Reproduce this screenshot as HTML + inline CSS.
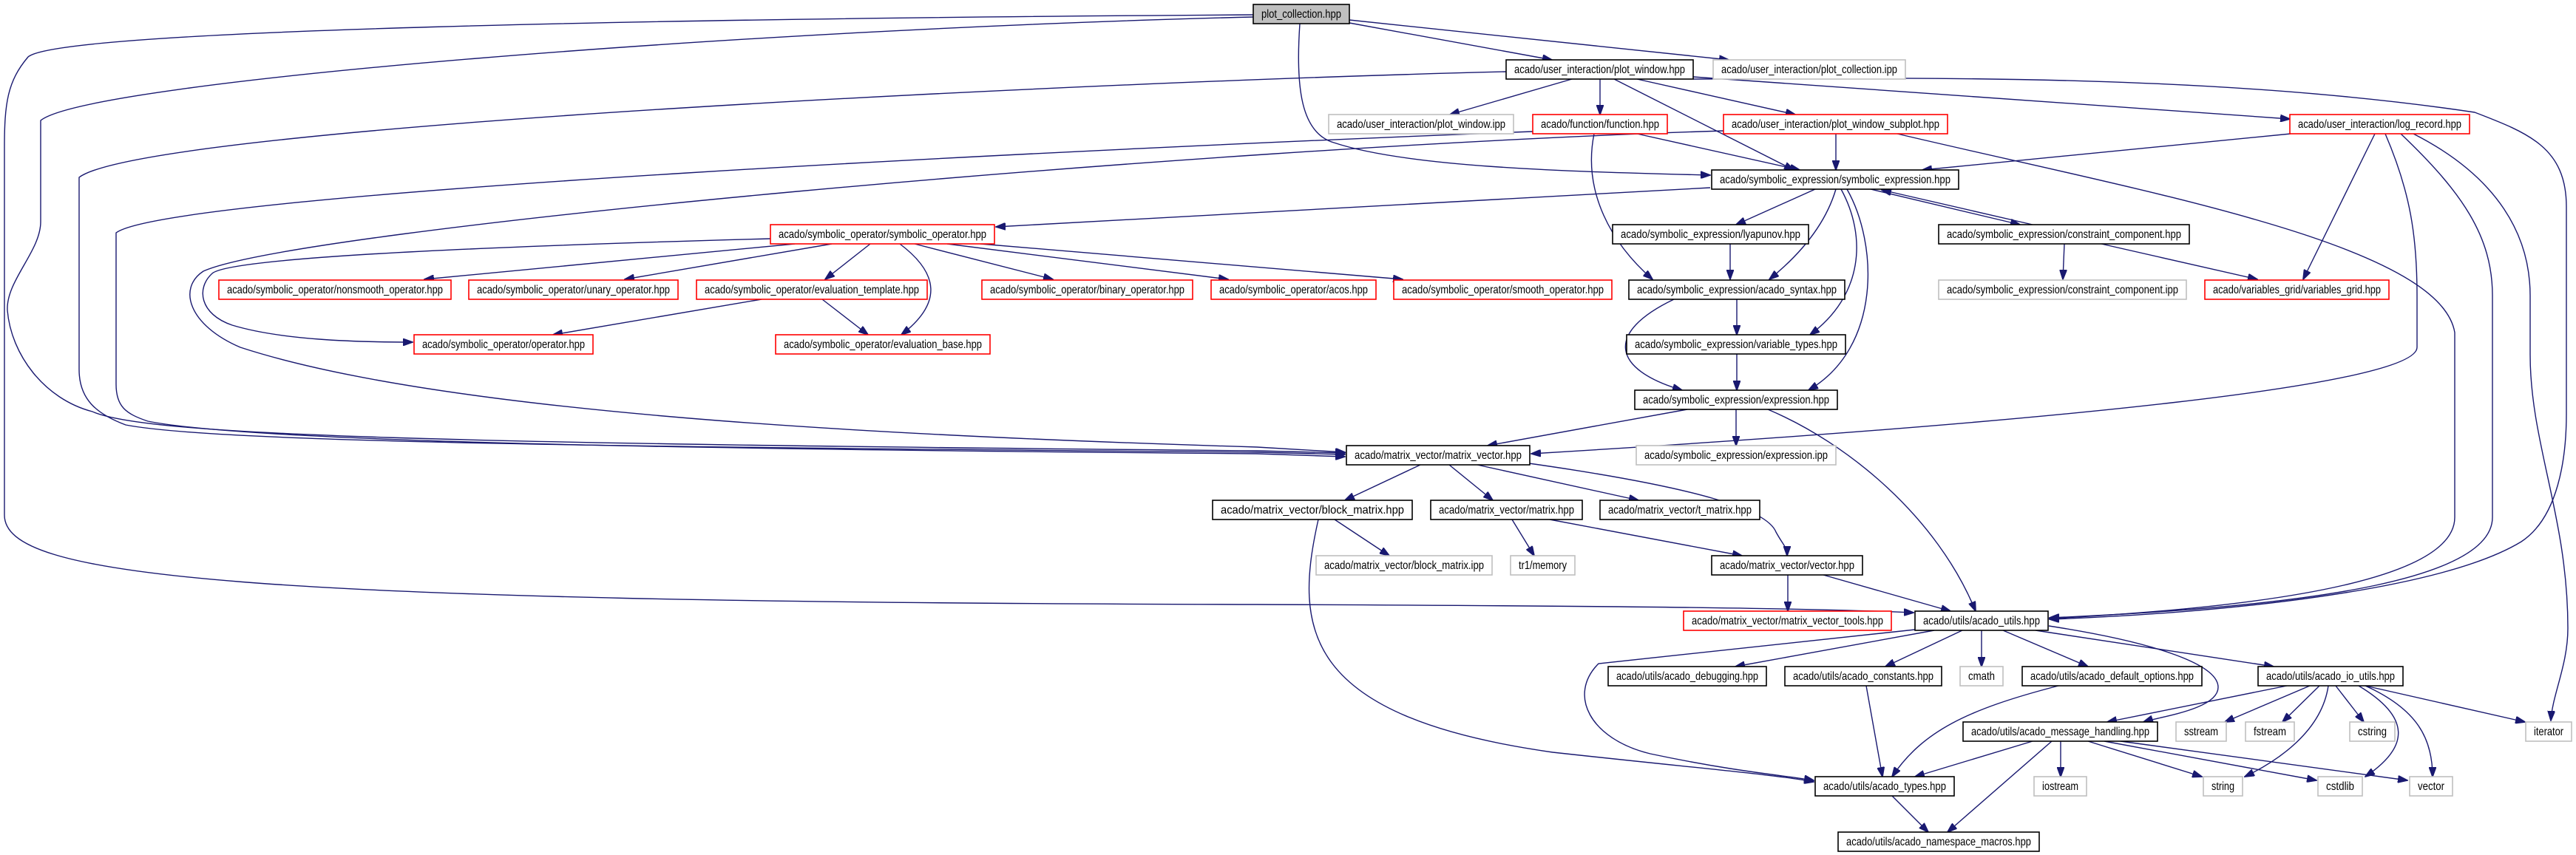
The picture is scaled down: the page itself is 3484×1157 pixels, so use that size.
<!DOCTYPE html>
<html><head><meta charset="utf-8"><style>
html,body{margin:0;padding:0;background:#fff;width:3484px;height:1157px;overflow:hidden}
svg{display:block}
text{font-family:"Liberation Sans",sans-serif;font-size:16px;fill:#000;text-anchor:middle}
.b{fill:#fff;stroke:#000;stroke-width:1.6}
.r{fill:#fff;stroke:#ff0000;stroke-width:1.6}
.g{fill:#fff;stroke:#bfbfbf;stroke-width:1.6}
.e{fill:none;stroke:#191970;stroke-width:1.4}
</style></head><body>
<svg width="3484" height="1157" viewBox="0 0 3484 1157" xmlns="http://www.w3.org/2000/svg">
<defs><marker id="a" markerWidth="14" markerHeight="10" refX="13" refY="5" orient="auto" markerUnits="userSpaceOnUse"><path d="M0,0L14,5L0,10z" fill="#191970" stroke="#191970"/></marker></defs>
<g class="e" marker-end="url(#a)">
<path d="M1825,31L2099,81"/>
<path d="M1825,27L2338,81"/>
<path d="M1758,32C1752,120 1760,180 1804,193C1900,225 2100,232 2313,237"/>
<path d="M1695,20C900,25 80,40 38,77C10,110 6,140 6,200L6,697C6,780 300,815 1700,818C2200,820 2450,823 2588,829"/>
<path d="M1695,23C1000,40 120,110 55,163C55,200 55,280 55,300C55,340 8,380 10,420C15,480 60,540 125,557C200,590 600,600 1700,610L1819,613"/>
<path d="M2037,97C1500,110 200,170 107,240L107,500C107,540 130,560 170,575C300,600 900,605 1700,612L1819,615"/>
<path d="M2073,178C1500,200 230,260 157,315L157,520C157,550 170,560 200,570C350,600 1000,608 1700,614L1819,618"/>
<path d="M2331,177C1600,200 400,310 275,367C240,390 255,440 325,470C600,560 1200,590 1700,605L1819,612"/>
<path d="M1042,323C600,335 310,350 287,370C265,390 270,425 314,440C380,460 480,463 558,463"/>
<path d="M2126,107L1961,155"/>
<path d="M2164,107L2164,155"/>
<path d="M2183,107L2426,230"/>
<path d="M2214,107L2428,155"/>
<path d="M2290,104L3097,161"/>
<path d="M2290,107C2600,105 3000,100 3347,152C3420,180 3471,200 3471,280L3471,560C3471,620 3460,700 3410,733C3300,800 3000,830 2772,838"/>
<path d="M2214,181L2434,230"/>
<path d="M2156,181C2140,260 2180,330 2235,378"/>
<path d="M2483,181L2483,230"/>
<path d="M2566,181C2900,260 3300,330 3320,450L3320,700C3320,780 3100,820 2772,837"/>
<path d="M3098,181L2600,230"/>
<path d="M3212,181L3115,378"/>
<path d="M3226,181C3260,260 3269,320 3269,400L3269,470C3269,520 2800,570 2071,614"/>
<path d="M3247,181C3330,260 3371,320 3371,400L3371,700C3371,780 3150,820 2772,836"/>
<path d="M3264,181C3380,240 3422,320 3422,400L3422,480C3422,600 3473,700 3473,850C3473,900 3452,940 3450,975"/>
<path d="M2313,254L1347,307"/>
<path d="M2455,256L2348,304"/>
<path d="M2483,256C2470,300 2440,340 2393,378"/>
<path d="M2530,256L2732,304"/>
<path d="M2749,304L2545,257"/>
<path d="M2490,256C2525,320 2520,400 2448,453"/>
<path d="M2498,256C2540,330 2545,470 2446,528"/>
<path d="M2792,330L2790,378"/>
<path d="M2842,330L3053,378"/>
<path d="M2340,330L2340,378"/>
<path d="M1075,330L574,378"/>
<path d="M1125,330L845,378"/>
<path d="M1177,330L1116,378"/>
<path d="M1237,330L1424,378"/>
<path d="M1281,330L1661,378"/>
<path d="M1326,330L1897,378"/>
<path d="M1217,330C1270,370 1275,410 1219,453"/>
<path d="M1030,405L748,453"/>
<path d="M1112,405L1174,453"/>
<path d="M2349,405L2349,453"/>
<path d="M2264,405C2170,450 2180,500 2275,528"/>
<path d="M2349,479L2349,528"/>
<path d="M2282,554L2012,603"/>
<path d="M2348,554L2348,603"/>
<path d="M2391,554C2500,600 2620,700 2672,827"/>
<path d="M1921,629L1819,677"/>
<path d="M1960,629L2019,677"/>
<path d="M1998,629L2216,677"/>
<path d="M2068,627C2300,660 2390,690 2402,720C2413,740 2417,740 2417,752"/>
<path d="M1805,703L1879,752"/>
<path d="M1783,703C1750,850 1760,970 2100,1018C2300,1040 2400,1048 2453,1058"/>
<path d="M2045,703L2075,752"/>
<path d="M2096,703L2356,752"/>
<path d="M2418,778L2418,827"/>
<path d="M2466,778L2638,827"/>
<path d="M2616,853L2347,902"/>
<path d="M2654,853L2550,902"/>
<path d="M2680,853L2680,902"/>
<path d="M2709,853L2824,902"/>
<path d="M2753,853L3075,902"/>
<path d="M2590,852L2162,898C2120,940 2150,1000 2232,1020C2350,1045 2420,1050 2453,1056"/>
<path d="M2771,847C2920,870 3000,900 3000,930C3000,960 2920,970 2899,977"/>
<path d="M2524,928L2546,1051"/>
<path d="M2784,928C2660,960 2600,990 2559,1051"/>
<path d="M3093,928L2850,977"/>
<path d="M3124,928L3009,977"/>
<path d="M3137,928L3087,977"/>
<path d="M3149,928C3140,990 3080,1030 3036,1051"/>
<path d="M3159,928L3197,977"/>
<path d="M3190,928C3260,970 3260,1010 3199,1051"/>
<path d="M3199,928C3270,960 3290,1000 3290,1051"/>
<path d="M3199,928L3415,977"/>
<path d="M2749,1003L2590,1051"/>
<path d="M2775,1003L2634,1126"/>
<path d="M2787,1003L2787,1051"/>
<path d="M2824,1003L2978,1051"/>
<path d="M2846,1003L3133,1056"/>
<path d="M2868,1003L3256,1056"/>
<path d="M2559,1077L2608,1126"/>
</g>
<g>
<rect x="1695" y="6" width="130" height="26" class="b" style="fill:#bfbfbf"/><text x="1760" y="24" textLength="108" lengthAdjust="spacingAndGlyphs">plot_collection.hpp</text>
<rect x="2037" y="81" width="253" height="26" class="b"/><text x="2163.5" y="99" textLength="231" lengthAdjust="spacingAndGlyphs">acado/user_interaction/plot_window.hpp</text>
<rect x="2317" y="81" width="260" height="26" class="g"/><text x="2447" y="99" textLength="238" lengthAdjust="spacingAndGlyphs">acado/user_interaction/plot_collection.ipp</text>
<rect x="1797" y="155" width="250" height="26" class="g"/><text x="1922" y="173" textLength="228" lengthAdjust="spacingAndGlyphs">acado/user_interaction/plot_window.ipp</text>
<rect x="2073" y="155" width="182" height="26" class="r"/><text x="2164" y="173" textLength="160" lengthAdjust="spacingAndGlyphs">acado/function/function.hpp</text>
<rect x="2331" y="155" width="303" height="26" class="r"/><text x="2482.5" y="173" textLength="281" lengthAdjust="spacingAndGlyphs">acado/user_interaction/plot_window_subplot.hpp</text>
<rect x="3097" y="155" width="243" height="26" class="r"/><text x="3218.5" y="173" textLength="221" lengthAdjust="spacingAndGlyphs">acado/user_interaction/log_record.hpp</text>
<rect x="2315" y="230" width="334" height="26" class="b"/><text x="2482" y="248" textLength="312" lengthAdjust="spacingAndGlyphs">acado/symbolic_expression/symbolic_expression.hpp</text>
<rect x="1042" y="304" width="303" height="26" class="r"/><text x="1193.5" y="322" textLength="281" lengthAdjust="spacingAndGlyphs">acado/symbolic_operator/symbolic_operator.hpp</text>
<rect x="2181" y="304" width="265" height="26" class="b"/><text x="2313.5" y="322" textLength="243" lengthAdjust="spacingAndGlyphs">acado/symbolic_expression/lyapunov.hpp</text>
<rect x="2622" y="304" width="339" height="26" class="b"/><text x="2791.5" y="322" textLength="317" lengthAdjust="spacingAndGlyphs">acado/symbolic_expression/constraint_component.hpp</text>
<rect x="296" y="379" width="314" height="26" class="r"/><text x="453" y="397" textLength="292" lengthAdjust="spacingAndGlyphs">acado/symbolic_operator/nonsmooth_operator.hpp</text>
<rect x="634" y="379" width="283" height="26" class="r"/><text x="775.5" y="397" textLength="261" lengthAdjust="spacingAndGlyphs">acado/symbolic_operator/unary_operator.hpp</text>
<rect x="942" y="379" width="312" height="26" class="r"/><text x="1098" y="397" textLength="290" lengthAdjust="spacingAndGlyphs">acado/symbolic_operator/evaluation_template.hpp</text>
<rect x="1328" y="379" width="285" height="26" class="r"/><text x="1470.5" y="397" textLength="263" lengthAdjust="spacingAndGlyphs">acado/symbolic_operator/binary_operator.hpp</text>
<rect x="1638" y="379" width="223" height="26" class="r"/><text x="1749.5" y="397" textLength="201" lengthAdjust="spacingAndGlyphs">acado/symbolic_operator/acos.hpp</text>
<rect x="1885" y="379" width="295" height="26" class="r"/><text x="2032.5" y="397" textLength="273" lengthAdjust="spacingAndGlyphs">acado/symbolic_operator/smooth_operator.hpp</text>
<rect x="2203" y="379" width="292" height="26" class="b"/><text x="2349" y="397" textLength="270" lengthAdjust="spacingAndGlyphs">acado/symbolic_expression/acado_syntax.hpp</text>
<rect x="2622" y="379" width="335" height="26" class="g"/><text x="2789.5" y="397" textLength="313" lengthAdjust="spacingAndGlyphs">acado/symbolic_expression/constraint_component.ipp</text>
<rect x="2982" y="379" width="249" height="26" class="r"/><text x="3106.5" y="397" textLength="227" lengthAdjust="spacingAndGlyphs">acado/variables_grid/variables_grid.hpp</text>
<rect x="560" y="453" width="242" height="26" class="r"/><text x="681" y="471" textLength="220" lengthAdjust="spacingAndGlyphs">acado/symbolic_operator/operator.hpp</text>
<rect x="1049" y="453" width="290" height="26" class="r"/><text x="1194" y="471" textLength="268" lengthAdjust="spacingAndGlyphs">acado/symbolic_operator/evaluation_base.hpp</text>
<rect x="2200" y="453" width="296" height="26" class="b"/><text x="2348" y="471" textLength="274" lengthAdjust="spacingAndGlyphs">acado/symbolic_expression/variable_types.hpp</text>
<rect x="2211" y="528" width="274" height="26" class="b"/><text x="2348" y="546" textLength="252" lengthAdjust="spacingAndGlyphs">acado/symbolic_expression/expression.hpp</text>
<rect x="1821" y="603" width="248" height="26" class="b"/><text x="1945" y="621" textLength="226" lengthAdjust="spacingAndGlyphs">acado/matrix_vector/matrix_vector.hpp</text>
<rect x="2213" y="603" width="270" height="26" class="g"/><text x="2348" y="621" textLength="248" lengthAdjust="spacingAndGlyphs">acado/symbolic_expression/expression.ipp</text>
<rect x="1640" y="677" width="270" height="26" class="b"/><text x="1775" y="695" textLength="248" lengthAdjust="spacingAndGlyphs">acado/matrix_vector/block_matrix.hpp</text>
<rect x="1935" y="677" width="205" height="26" class="b"/><text x="2037.5" y="695" textLength="183" lengthAdjust="spacingAndGlyphs">acado/matrix_vector/matrix.hpp</text>
<rect x="2164" y="677" width="216" height="26" class="b"/><text x="2272" y="695" textLength="194" lengthAdjust="spacingAndGlyphs">acado/matrix_vector/t_matrix.hpp</text>
<rect x="1780" y="752" width="238" height="26" class="g"/><text x="1899" y="770" textLength="216" lengthAdjust="spacingAndGlyphs">acado/matrix_vector/block_matrix.ipp</text>
<rect x="2043" y="752" width="87" height="26" class="g"/><text x="2086.5" y="770" textLength="65" lengthAdjust="spacingAndGlyphs">tr1/memory</text>
<rect x="2315" y="752" width="204" height="26" class="b"/><text x="2417" y="770" textLength="182" lengthAdjust="spacingAndGlyphs">acado/matrix_vector/vector.hpp</text>
<rect x="2277" y="827" width="281" height="26" class="r"/><text x="2417.5" y="845" textLength="259" lengthAdjust="spacingAndGlyphs">acado/matrix_vector/matrix_vector_tools.hpp</text>
<rect x="2590" y="827" width="180" height="26" class="b"/><text x="2680" y="845" textLength="158" lengthAdjust="spacingAndGlyphs">acado/utils/acado_utils.hpp</text>
<rect x="2175" y="902" width="214" height="26" class="b"/><text x="2282" y="920" textLength="192" lengthAdjust="spacingAndGlyphs">acado/utils/acado_debugging.hpp</text>
<rect x="2414" y="902" width="212" height="26" class="b"/><text x="2520" y="920" textLength="190" lengthAdjust="spacingAndGlyphs">acado/utils/acado_constants.hpp</text>
<rect x="2651" y="902" width="58" height="26" class="g"/><text x="2680" y="920" textLength="36" lengthAdjust="spacingAndGlyphs">cmath</text>
<rect x="2735" y="902" width="243" height="26" class="b"/><text x="2856.5" y="920" textLength="221" lengthAdjust="spacingAndGlyphs">acado/utils/acado_default_options.hpp</text>
<rect x="3054" y="902" width="196" height="26" class="b"/><text x="3152" y="920" textLength="174" lengthAdjust="spacingAndGlyphs">acado/utils/acado_io_utils.hpp</text>
<rect x="2655" y="977" width="263" height="26" class="b"/><text x="2786.5" y="995" textLength="241" lengthAdjust="spacingAndGlyphs">acado/utils/acado_message_handling.hpp</text>
<rect x="2943" y="977" width="68" height="26" class="g"/><text x="2977" y="995" textLength="46" lengthAdjust="spacingAndGlyphs">sstream</text>
<rect x="3037" y="977" width="66" height="26" class="g"/><text x="3070" y="995" textLength="44" lengthAdjust="spacingAndGlyphs">fstream</text>
<rect x="3178" y="977" width="61" height="26" class="g"/><text x="3208.5" y="995" textLength="39" lengthAdjust="spacingAndGlyphs">cstring</text>
<rect x="3416" y="977" width="62" height="26" class="g"/><text x="3447" y="995" textLength="40" lengthAdjust="spacingAndGlyphs">iterator</text>
<rect x="2455" y="1051" width="188" height="26" class="b"/><text x="2549" y="1069" textLength="166" lengthAdjust="spacingAndGlyphs">acado/utils/acado_types.hpp</text>
<rect x="2751" y="1051" width="71" height="26" class="g"/><text x="2786.5" y="1069" textLength="49" lengthAdjust="spacingAndGlyphs">iostream</text>
<rect x="2980" y="1051" width="53" height="26" class="g"/><text x="3006.5" y="1069" textLength="31" lengthAdjust="spacingAndGlyphs">string</text>
<rect x="3135" y="1051" width="60" height="26" class="g"/><text x="3165" y="1069" textLength="38" lengthAdjust="spacingAndGlyphs">cstdlib</text>
<rect x="3259" y="1051" width="58" height="26" class="g"/><text x="3288" y="1069" textLength="36" lengthAdjust="spacingAndGlyphs">vector</text>
<rect x="2486" y="1126" width="272" height="26" class="b"/><text x="2622" y="1144" textLength="250" lengthAdjust="spacingAndGlyphs">acado/utils/acado_namespace_macros.hpp</text>
</g>
</svg>
</body></html>
